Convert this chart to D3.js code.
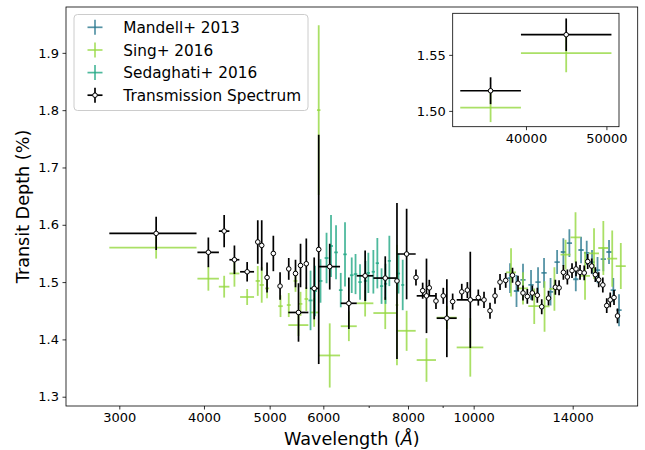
<!DOCTYPE html>
<html>
<head>
<meta charset="utf-8">
<script src="https://cdn.jsdelivr.net/npm/d3@7"></script>
<style>
  body { margin: 0; background: #fff; }
  svg { display: block; }
  text { font-family: "DejaVu Sans", sans-serif; fill: #000; }
</style>
</head>
<body>
<svg id="chart" width="645" height="450"></svg>
<script>
// ---- Transmission spectrum (combined) ----
const specWave = [3400,4060,4284,4436,4632, 4802,4867,4956,5063,5180, 5335,5459,5515,5553,5663,
  5817,5907,6132,6544,6916, 7405,7706,7963,8220,8409, 8519,8600,8798,9019,9129,
  9311,9604,9788,9886,10159, 10358,10571,10752,10937,11150, 11411,11626,11825,12000,12205,
  12415,12602,12896,13200,13367, 13564,13749,13968,14159,14353, 14559,14733,14935,15119,15294,
  15509,15716,15904,16110,16303];
const specWaveErr = [500,148,77,75,110, 25,25,25,25,25, 25,25,188,25,25,
  82,25,219,178,196, 293,25,249,40,40, 279,40,40,40,310,
  40,40,40,447,45, 45,45,45,45,75, 75,75,80,80,80,
  80,85,85,90,90, 90,90,95,95,95, 95,100,100,100,100,
  100,105,105,105,105];
const specDepth = [1.585,1.552,1.589,1.539,1.518, 1.570,1.564,1.508,1.550,1.493, 1.523,1.515,1.447,1.529,1.532,
  1.489,1.557,1.527,1.463,1.511, 1.507,1.502,1.549,1.508,1.485, 1.476,1.490,1.467,1.476,1.437,
  1.466,1.483,1.486,1.469,1.473, 1.469,1.450,1.476,1.500,1.503, 1.512,1.498,1.481,1.475,1.481,
  1.477,1.457,1.472,1.491,1.490, 1.517,1.509,1.520,1.523,1.517, 1.516,1.536,1.528,1.513,1.504,
  1.495,1.459,1.469,1.473,1.441];
const specDepthErr = [0.029,0.026,0.028,0.025,0.017, 0.038,0.044,0.026,0.031,0.024, 0.019,0.024,0.051,0.038,0.044,
  0.054,0.200,0.040,0.045,0.044, 0.038,0.136,0.079,0.014,0.014, 0.065,0.014,0.014,0.014,0.068,
  0.014,0.014,0.014,0.084,0.014, 0.014,0.014,0.014,0.014,0.013, 0.013,0.013,0.013,0.013,0.013,
  0.013,0.013,0.013,0.013,0.013, 0.013,0.013,0.013,0.013,0.013, 0.013,0.013,0.013,0.013,0.013,
  0.013,0.013,0.013,0.013,0.013];

// ---- Sing+ 2016 ----
const singWave = [3400,4060,4284,4436,4632, 4802,4867,4956,5188,5335, 5459,5515,5553,5663,5817,
  5907,6132,6544,6916,7405, 7706,7963,8519,9129,9886, 11354,11825,12285,12723,13157,
  13666,14135,14599,15052,15536, 16012,16486];
const singWaveErr = [500,148,77,75,110, 35,35,35,40,35, 35,188,35,35,82,
  35,219,178,196,293, 35,249,279,310,447, 193,201,244,216,224,
  232,240,248,256,264, 272,280];
const singDepth = [1.560,1.506,1.492,1.515,1.474, 1.502,1.495,1.489,1.458,1.460, 1.502,1.425,1.462,1.4705,1.447,
  1.800,1.372,1.423,1.463,1.446, 1.460,1.415,1.364,1.438,1.386, 1.517,1.489,1.458,1.4575,1.488,
  1.548,1.578,1.511,1.550,1.5595, 1.541,1.528];
const singDepthErr = [0.019,0.021,0.019,0.023,0.014, 0.026,0.031,0.017,0.019,0.021, 0.019,0.019,0.021,0.021,0.025,
  0.148,0.056,0.026,0.023,0.028, 0.105,0.035,0.038,0.020,0.051, 0.042,0.028,0.031,0.044,0.038,
  0.026,0.044,0.042,0.044,0.047, 0.049,0.040];

// ---- Sedaghati+ 2016 ----
const sedWave = [5745,5833,5943,6066,6159, 6265,6366,6459,6608,6694,
  6797,6926,6992,7112,7209, 7313,7413,7509,7747,7858];
const sedWaveErr = [40,40,40,40,40, 40,40,40,40,40, 40,40,40,40,40, 40,40,40,40,40];
const sedDepth = [1.468,1.4845,1.502,1.542,1.563, 1.552,1.486,1.5485,1.512,1.514,
  1.500,1.502,1.516,1.518,1.533, 1.493,1.497,1.537,1.515,1.495];
const sedDepthErr = [0.052,0.044,0.038,0.044,0.054, 0.047,0.030,0.056,0.031,0.035,
  0.031,0.035,0.035,0.038,0.044, 0.031,0.035,0.044,0.035,0.044];

// ---- Mandell+ 2013 ----
const mandWave = [11315,11567,11825,12152,12445, 12701,12985,13278,13564,13843,
  14148,14403,14683,14950,15232, 15536,15839,16072,16386];
const mandWaveErr = [100,105,105,110,112, 115,117,120,122,125, 127,130,132,135,137, 140,142,145,147];
const mandDepth = [1.507,1.4845,1.504,1.495,1.500, 1.516,1.483,1.535,1.5525,1.568,
  1.505,1.556,1.551,1.535,1.521, 1.540,1.5525,1.486,1.451];
const mandDepthErr = [0.026,0.028,0.028,0.026,0.026, 0.026,0.024,0.021,0.024,0.024,
  0.021,0.023,0.021,0.021,0.023, 0.021,0.021,0.021,0.028];

// ---- Spitzer channels (inset) ----
const irWave = [35600, 45000];
const irWaveErr = [3770, 5625];
const irSpecDepth = [1.518, 1.568];
const irSpecDepthErr = [0.012, 0.0145];
const irSingDepth = [1.503, 1.5515];
const irSingDepthErr = [0.013, 0.017];

// ---- Ticks and labels ----
const xTicks = [3000, 4000, 5000, 6000, 8000, 10000, 14000];
const xMinorTicks = [7000, 9000];
const yTicks = [1.3, 1.4, 1.5, 1.6, 1.7, 1.8, 1.9];
const insetXTicks = [40000, 50000];
const insetYTicks = [1.50, 1.55];
const seriesNames = ["Mandell+ 2013", "Sing+ 2016", "Sedaghati+ 2016", "Transmission Spectrum"];
const seriesColors = ["#2a788e", "#95d840", "#22a884", "#000000"];

const svg = d3.select("#chart");
const frame = { left: 66, right: 637.7, top: 7, bottom: 406 };

const x = d3.scaleLog().domain([2503, 17460]).range([frame.left, frame.right]);
const y = d3.scaleLinear().domain([1.2838, 1.980]).range([frame.bottom, frame.top]);

function zipSeries(w, we, d, de) {
  return w.map((v, i) => ({ w: v, we: we[i], d: d[i], de: de[i] }));
}

function drawErrorbars(g, data, xs, ys, color, opacity, width) {
  const s = g.append("g").attr("stroke", color).attr("stroke-opacity", opacity)
    .attr("stroke-width", width).attr("fill", "none");
  s.selectAll("line.h").data(data).join("line").attr("class", "h")
    .attr("x1", p => xs(p.w - p.we)).attr("x2", p => xs(p.w + p.we))
    .attr("y1", p => ys(p.d)).attr("y2", p => ys(p.d));
  s.selectAll("line.v").data(data).join("line").attr("class", "v")
    .attr("x1", p => xs(p.w)).attr("x2", p => xs(p.w))
    .attr("y1", p => ys(p.d - p.de)).attr("y2", p => ys(p.d + p.de));
}

function drawMarkers(g, data, xs, ys) {
  g.append("g").selectAll("circle").data(data).join("circle")
    .attr("cx", p => xs(p.w)).attr("cy", p => ys(p.d)).attr("r", 2.3)
    .attr("fill", "#fff").attr("stroke", "#000").attr("stroke-width", 1);
}

// Main panel
const clipId = "plotclip";
svg.append("clipPath").attr("id", clipId).append("rect")
  .attr("x", frame.left).attr("y", frame.top)
  .attr("width", frame.right - frame.left).attr("height", frame.bottom - frame.top);
const plot = svg.append("g").attr("clip-path", `url(#${clipId})`);

drawErrorbars(plot, zipSeries(mandWave, mandWaveErr, mandDepth, mandDepthErr), x, y, seriesColors[0], 0.8, 1.8);
drawErrorbars(plot, zipSeries(singWave, singWaveErr, singDepth, singDepthErr), x, y, seriesColors[1], 0.8, 1.8);
drawErrorbars(plot, zipSeries(sedWave, sedWaveErr, sedDepth, sedDepthErr), x, y, seriesColors[2], 0.8, 1.8);
const specData = zipSeries(specWave, specWaveErr, specDepth, specDepthErr);
drawErrorbars(plot, specData, x, y, seriesColors[3], 1, 1.7);
drawMarkers(plot, specData, x, y);

// Axes
function styleAxis(g) {
  g.select(".domain").remove();
  g.selectAll(".tick line").attr("stroke", "#000").attr("stroke-width", 0.8);
  g.selectAll(".tick text").attr("font-size", 13).attr("font-family", "DejaVu Sans");
}

svg.append("g").attr("transform", `translate(0,${frame.bottom})`)
  .call(d3.axisBottom(x).tickValues(xTicks).tickFormat(d3.format("d")).tickSize(3.5).tickPadding(3.5))
  .call(styleAxis);
svg.append("g").attr("transform", `translate(0,${frame.bottom})`)
  .call(d3.axisBottom(x).tickValues(xMinorTicks).tickFormat("").tickSize(2))
  .call(styleAxis);
svg.append("g").attr("transform", `translate(${frame.left},0)`)
  .call(d3.axisLeft(y).tickValues(yTicks).tickFormat(d3.format(".1f")).tickSize(3.5).tickPadding(3.5))
  .call(styleAxis);

svg.append("rect").attr("x", frame.left).attr("y", frame.top)
  .attr("width", frame.right - frame.left).attr("height", frame.bottom - frame.top)
  .attr("fill", "none").attr("stroke", "#000").attr("stroke-width", 0.8);

// Axis titles
const xTitle = svg.append("text").attr("x", (frame.left + frame.right) / 2).attr("y", 445)
  .attr("text-anchor", "middle").attr("font-size", 17.6);
xTitle.append("tspan").text("Wavelength (");
xTitle.append("tspan").attr("font-style", "italic").text("Å");
xTitle.append("tspan").text(")");

svg.append("text").attr("transform", `translate(29,${(frame.top + frame.bottom) / 2}) rotate(-90)`)
  .attr("text-anchor", "middle").attr("font-size", 17.6).text("Transit Depth (%)");

// Legend
const legend = svg.append("g");
legend.append("rect").attr("x", 74).attr("y", 14.5).attr("width", 234).attr("height", 96)
  .attr("rx", 3.5).attr("fill", "#fff").attr("fill-opacity", 0.8)
  .attr("stroke", "#cccccc").attr("stroke-width", 1);
const rowY = [27.3, 50, 72.6, 95.2];
seriesNames.forEach((name, i) => {
  const c = 95, cy = rowY[i];
  const op = i === 3 ? 1 : 0.8;
  legend.append("line").attr("x1", c - 7.5).attr("x2", c + 7.5).attr("y1", cy).attr("y2", cy)
    .attr("stroke", seriesColors[i]).attr("stroke-opacity", op).attr("stroke-width", 1.7);
  legend.append("line").attr("x1", c).attr("x2", c).attr("y1", cy - 7.5).attr("y2", cy + 7.5)
    .attr("stroke", seriesColors[i]).attr("stroke-opacity", op).attr("stroke-width", 1.7);
  if (i === 3) {
    legend.append("circle").attr("cx", c).attr("cy", cy).attr("r", 2.3)
      .attr("fill", "#fff").attr("stroke", "#000").attr("stroke-width", 1);
  }
  legend.append("text").attr("x", 123.3).attr("y", cy + 5.5).attr("font-size", 15.3).text(name);
});

// Inset panel (Spitzer)
const inset = { left: 452.7, right: 619, top: 13.3, bottom: 126.7 };
const xi = d3.scaleLinear().domain([30890, 51565]).range([inset.left, inset.right]);
const yi = d3.scaleLinear().domain([1.4859, 1.5871]).range([inset.bottom, inset.top]);

svg.append("rect").attr("x", inset.left).attr("y", inset.top)
  .attr("width", inset.right - inset.left).attr("height", inset.bottom - inset.top)
  .attr("fill", "#fff");
const ig = svg.append("g");
drawErrorbars(ig, zipSeries(irWave, irWaveErr, irSingDepth, irSingDepthErr), xi, yi, seriesColors[1], 0.8, 1.8);
const irSpec = zipSeries(irWave, irWaveErr, irSpecDepth, irSpecDepthErr);
drawErrorbars(ig, irSpec, xi, yi, seriesColors[3], 1, 1.7);
drawMarkers(ig, irSpec, xi, yi);

svg.append("g").attr("transform", `translate(0,${inset.bottom})`)
  .call(d3.axisBottom(xi).tickValues(insetXTicks).tickFormat(d3.format("d")).tickSize(3.5).tickPadding(3.5))
  .call(styleAxis);
svg.append("g").attr("transform", `translate(${inset.left},0)`)
  .call(d3.axisLeft(yi).tickValues(insetYTicks).tickFormat(d3.format(".2f")).tickSize(3.5).tickPadding(3.5))
  .call(styleAxis);
svg.append("rect").attr("x", inset.left).attr("y", inset.top)
  .attr("width", inset.right - inset.left).attr("height", inset.bottom - inset.top)
  .attr("fill", "none").attr("stroke", "#000").attr("stroke-width", 0.8);
</script>
</body>
</html>
